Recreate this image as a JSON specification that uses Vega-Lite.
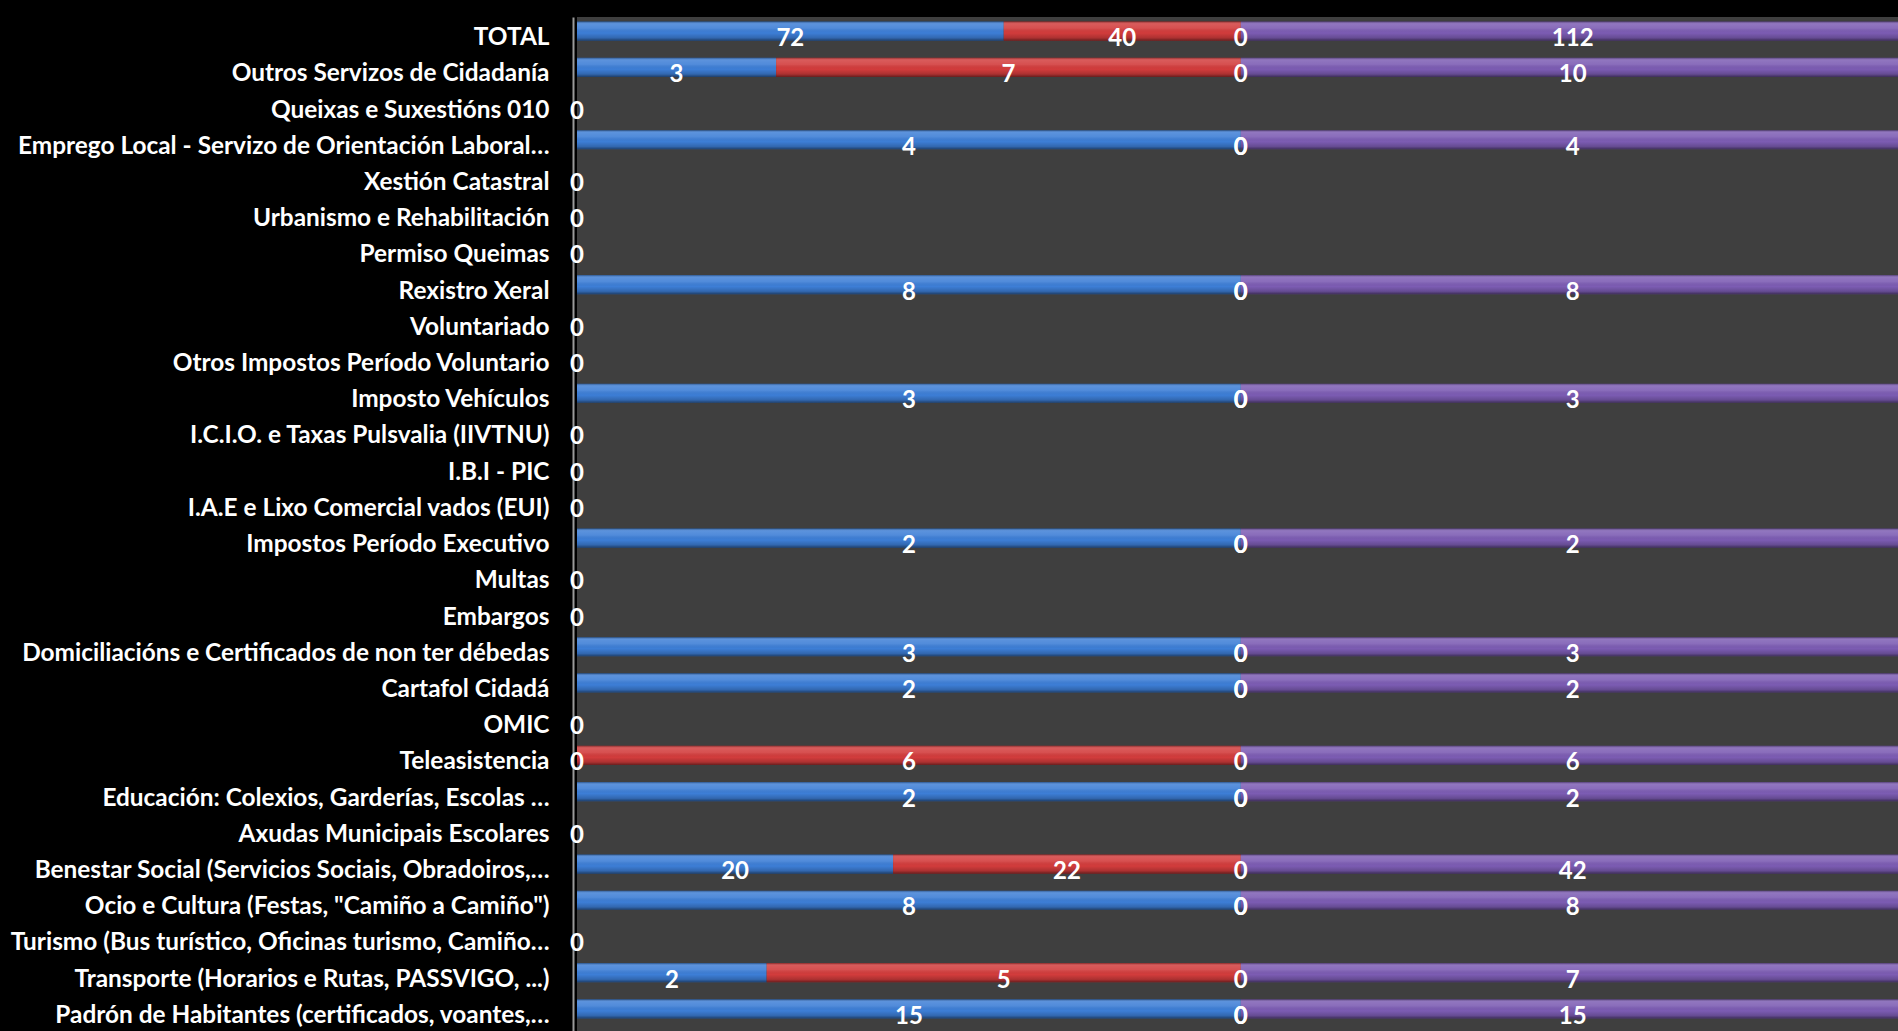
{
  "$schema": "https://vega.github.io/schema/vega-lite/v6.json",
  "width": 1321,
  "height": 1014,
  "autosize": {"type": "none"},
  "padding": {"left": 577, "top": 17, "right": 0, "bottom": 0},
  "background": "#000000",
  "config": {
    "view": {"fill": "#3f3f3f", "stroke": null},
    "font": "Lato"
  },
  "data": {
    "values": [
      {"row": 1, "cat": "TOTAL", "s1": 72, "s2": 40, "s3": 0, "s4": 112},
      {"row": 2, "cat": "Outros Servizos de Cidadanía", "s1": 3, "s2": 7, "s3": 0, "s4": 10},
      {"row": 3, "cat": "Queixas e Suxestións 010", "s1": 0, "s2": 0, "s3": 0, "s4": 0},
      {"row": 4, "cat": "Emprego Local - Servizo de Orientación Laboral…", "s1": 4, "s2": 0, "s3": 0, "s4": 4},
      {"row": 5, "cat": "Xestión Catastral", "s1": 0, "s2": 0, "s3": 0, "s4": 0},
      {"row": 6, "cat": "Urbanismo e Rehabilitación", "s1": 0, "s2": 0, "s3": 0, "s4": 0},
      {"row": 7, "cat": "Permiso Queimas", "s1": 0, "s2": 0, "s3": 0, "s4": 0},
      {"row": 8, "cat": "Rexistro Xeral ", "s1": 8, "s2": 0, "s3": 0, "s4": 8},
      {"row": 9, "cat": "Voluntariado", "s1": 0, "s2": 0, "s3": 0, "s4": 0},
      {"row": 10, "cat": "Otros  Impostos  Período Voluntario", "s1": 0, "s2": 0, "s3": 0, "s4": 0},
      {"row": 11, "cat": "Imposto Vehículos", "s1": 3, "s2": 0, "s3": 0, "s4": 3},
      {"row": 12, "cat": "I.C.I.O. e Taxas Pulsvalia (IIVTNU)", "s1": 0, "s2": 0, "s3": 0, "s4": 0},
      {"row": 13, "cat": "I.B.I - PIC", "s1": 0, "s2": 0, "s3": 0, "s4": 0},
      {"row": 14, "cat": "I.A.E e Lixo Comercial vados (EUI)", "s1": 0, "s2": 0, "s3": 0, "s4": 0},
      {"row": 15, "cat": "Impostos  Período Executivo ", "s1": 2, "s2": 0, "s3": 0, "s4": 2},
      {"row": 16, "cat": "Multas", "s1": 0, "s2": 0, "s3": 0, "s4": 0},
      {"row": 17, "cat": "Embargos", "s1": 0, "s2": 0, "s3": 0, "s4": 0},
      {"row": 18, "cat": "Domiciliacións e Certificados de non ter débedas", "s1": 3, "s2": 0, "s3": 0, "s4": 3},
      {"row": 19, "cat": "Cartafol Cidadá", "s1": 2, "s2": 0, "s3": 0, "s4": 2},
      {"row": 20, "cat": "OMIC", "s1": 0, "s2": 0, "s3": 0, "s4": 0},
      {"row": 21, "cat": "Teleasistencia", "s1": 0, "s2": 6, "s3": 0, "s4": 6},
      {"row": 22, "cat": "Educación: Colexios, Garderías, Escolas …", "s1": 2, "s2": 0, "s3": 0, "s4": 2},
      {"row": 23, "cat": "Axudas Municipais Escolares", "s1": 0, "s2": 0, "s3": 0, "s4": 0},
      {"row": 24, "cat": "Benestar Social (Servicios Sociais, Obradoiros,…", "s1": 20, "s2": 22, "s3": 0, "s4": 42},
      {"row": 25, "cat": "Ocio e Cultura (Festas, \"Camiño a Camiño\")", "s1": 8, "s2": 0, "s3": 0, "s4": 8},
      {"row": 26, "cat": "Turismo (Bus turístico, Oficinas turismo, Camiño…", "s1": 0, "s2": 0, "s3": 0, "s4": 0},
      {"row": 27, "cat": "Transporte (Horarios e Rutas, PASSVIGO, ...)", "s1": 2, "s2": 5, "s3": 0, "s4": 7},
      {"row": 28, "cat": "Padrón de Habitantes (certificados, voantes,…", "s1": 15, "s2": 0, "s3": 0, "s4": 15}
    ]
  },
  "transform": [
    {"fold": ["s1", "s2", "s3", "s4"], "as": ["series", "value"]},
    {"joinaggregate": [{"op": "sum", "field": "value", "as": "total"}], "groupby": ["cat"]}
  ],
  "encoding": {
    "y": {
      "field": "cat",
      "type": "nominal",
      "sort": {"field": "row", "op": "min", "order": "ascending"},
      "scale": {"paddingInner": 0.47, "paddingOuter": 0.235},
      "title": null,
      "axis": {
        "domainColor": "#9a9a9a",
        "domainWidth": 2,
        "ticks": false,
        "grid": false,
        "offset": 4,
        "labelColor": "#ffffff",
        "labelFont": "Lato",
        "labelFontWeight": "bold",
        "labelFontSize": 24.4,
        "labelPadding": 24,
        "labelOffset": 3,
        "labelLimit": 700
      }
    }
  },
  "layer": [
    {
      "transform": [{"filter": "datum.value > 0"}],
      "mark": {"type": "bar", "yOffset": -4, "clip": true},
      "encoding": {
        "x": {"field": "value", "type": "quantitative", "stack": "normalize", "scale": {"domain": [0, 0.995]}, "axis": null},
        "color": {
          "field": "series",
          "type": "nominal",
          "scale": {"domain": ["s1", "s2", "s3", "s4"], "range": ["#3d7ed6", "#d23c3c", "#9bbb59", "#7c5cb3"]},
          "legend": null
        },
        "order": {"field": "series", "type": "ordinal"}
      }
    },
    {
      "transform": [{"filter": "datum.value > 0"}],
      "mark": {
        "type": "bar",
        "yOffset": -4,
        "clip": true,
        "color": {
          "gradient": "linear",
          "x1": 0, "y1": 0, "x2": 0, "y2": 1,
          "stops": [
            {"offset": 0, "color": "rgba(0,0,0,0.35)"},
            {"offset": 0.12, "color": "rgba(255,255,255,0.16)"},
            {"offset": 0.35, "color": "rgba(255,255,255,0.10)"},
            {"offset": 0.6, "color": "rgba(0,0,0,0)"},
            {"offset": 0.85, "color": "rgba(0,0,0,0.18)"},
            {"offset": 1, "color": "rgba(0,0,0,0.5)"}
          ]
        }
      },
      "encoding": {
        "x": {"field": "value", "type": "quantitative", "stack": "normalize", "scale": {"domain": [0, 0.995]}, "axis": null},
        "detail": {"field": "series"},
        "order": {"field": "series", "type": "ordinal"}
      }
    },
    {
      "transform": [{"filter": "datum.total > 0"}],
      "mark": {"type": "text", "color": "#ffffff", "font": "Lato", "fontWeight": "bold", "fontSize": 24, "baseline": "middle", "dy": 4},
      "encoding": {
        "x": {"field": "value", "type": "quantitative", "stack": "normalize", "bandPosition": 0.5, "scale": {"domain": [0, 0.995]}, "axis": null},
        "detail": {"field": "series"},
        "order": {"field": "series", "type": "ordinal"},
        "text": {"field": "value", "type": "quantitative"}
      }
    },
    {
      "transform": [{"filter": "datum.total == 0 && datum.series == 's1'"}],
      "mark": {"type": "text", "color": "#ffffff", "font": "Lato", "fontWeight": "bold", "fontSize": 24, "baseline": "middle", "dy": 4},
      "encoding": {
        "x": {"field": "value", "type": "quantitative", "stack": null, "scale": {"domain": [0, 0.995]}, "axis": null},
        "text": {"field": "value", "type": "quantitative"}
      }
    }
  ]
}
